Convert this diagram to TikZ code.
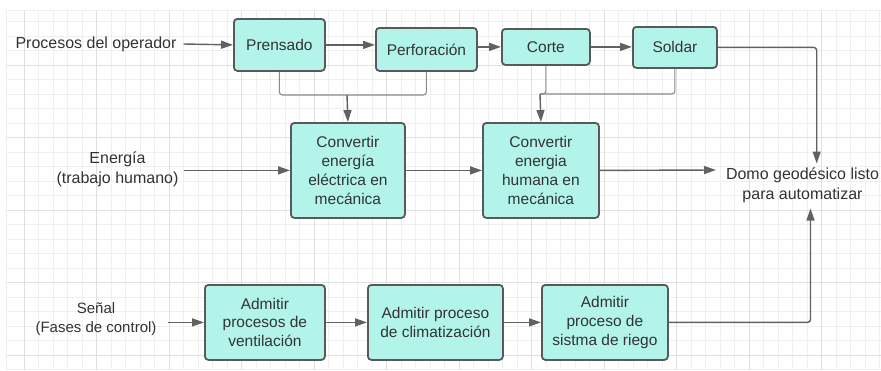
\documentclass[tikz,border=0pt]{standalone}
\usepackage{fontspec}
\setmainfont{Liberation Sans}
\usetikzlibrary{arrows.meta}
\definecolor{boxfill}{HTML}{B3F4EA}
\definecolor{boxline}{HTML}{595959}
\definecolor{arrowgray}{HTML}{616161}
\definecolor{joingray}{HTML}{8A8A8A}
\definecolor{textgray}{HTML}{333333}
\definecolor{gridminor}{HTML}{EFEFEF}
\definecolor{gridmajor}{HTML}{DFDFDF}

\begin{document}
\begin{tikzpicture}[x=1pt,y=-1pt,
  every node/.style={text=textgray,align=center,inner sep=0pt,
    font=\fontsize{15.5}{18.8}\selectfont},
  procbox/.style={draw=boxline,fill=boxfill,line width=1.8pt,
    rounded corners=3.5pt,anchor=north west},
  sidelabel/.style={font=\fontsize{16}{20}\selectfont},
  flow/.style={draw=arrowgray,line width=1.4pt,
    -{Triangle[length=12pt,width=8pt]}},
  joinline/.style={draw=joingray,line width=1.1pt,rounded corners=3pt}]
\useasboundingbox (0,0) rectangle (881,370);

% Grid background
\fill[white] (0,0) rectangle (881,370);
\foreach \gx in {24,38.5,...,881}
  \draw[gridminor,line width=0.9pt] (\gx,10) -- (\gx,370);
\foreach \gy in {21.8,36.3,...,370}
  \draw[gridminor,line width=0.9pt] (6,\gy) -- (881,\gy);
\foreach \gx in {24,96.5,...,881}
  \draw[gridmajor,line width=0.9pt] (\gx,10) -- (\gx,370);
\foreach \gy in {65.3,137.8,...,370}
  \draw[gridmajor,line width=0.9pt] (6,\gy) -- (881,\gy);
\draw[gridminor,line width=0.9pt] (6,370) -- (6,10) -- (881,10);

% Top row: operator processes
\node[procbox,minimum width=91pt,minimum height=52pt] (prensado) at (233,18) {Prensado};
\node[procbox,minimum width=101pt,minimum height=43pt] (perforacion) at (375,27) {Perforación};
\node[procbox,minimum width=88pt,minimum height=36pt] (corte) at (501,28) {Corte};
\node[procbox,minimum width=84pt,minimum height=41pt] (soldar) at (632,26) {Soldar};

% Middle row: energy conversion
\node[procbox,minimum width=114pt,minimum height=95pt] (electrica) at (290,122)
  {Convertir\\energía\\eléctrica en\\mecánica};
\node[procbox,minimum width=116pt,minimum height=95pt] (humana) at (482,122)
  {Convertir\\energia\\humana en\\mecánica};

% Bottom row: control phases
\node[procbox,minimum width=120pt,minimum height=75pt] (ventilacion) at (204,284)
  {Admitir\\procesos de\\ventilación};
\node[procbox,minimum width=135pt,minimum height=75pt] (clima) at (367,284)
  {Admitir proceso\\de climatización};
\node[procbox,minimum width=126pt,minimum height=75pt] (riego) at (541,284)
  {Admitir\\proceso de\\sistma de riego};

% Inputs and output
\node[sidelabel] (operador) at (96,44) {Procesos del operador};
\node[sidelabel] (energia) at (117.5,169) {Energía\\(trabajo humano)};
\node[font=\fontsize{15}{19.5}\selectfont] (senal) at (96,319) {Señal\\(Fases de control)};
\node[sidelabel] (domo) at (802.5,185) {Domo geodésico listo\\para automatizar};
\coordinate (domotop) at (816.7,163.5);
\coordinate (domoleft) at (716,170);
\coordinate (domobottom) at (810.5,208.5);

% Joins
\coordinate (joinA) at (347,95);
\coordinate (joinB) at (540,94);
\draw[joinline] (prensado.south) |- (joinA) -| (perforacion.south);
\draw[joinline] (corte.south) |- (joinB);
\draw[joinline] (soldar.south) |- (joinB);

% Arrows
\draw[flow] ([xshift=7pt]operador.east) -- (prensado.west);
\draw[flow] (prensado.east) -- (prensado.east -| perforacion.west);
\draw[flow] (perforacion.east |- corte.west) -- (corte.west);
\draw[flow] (corte.east) -- (corte.east -| soldar.west);
\draw[flow] (joinA) -- (electrica.north);
\draw[flow] (joinB) -- (humana.north);
\draw[flow] ([xshift=5pt]energia.east |- electrica.west) -- (electrica.west);
\draw[flow] (electrica.east) -- (humana.west);
\draw[flow] (humana.east) -- (domoleft);
\draw[flow,rounded corners=3pt] (soldar.east) -| (domotop);
\draw[flow] ([xshift=11pt]senal.east |- ventilacion.west) -- (ventilacion.west);
\draw[flow] (ventilacion.east) -- (clima.west);
\draw[flow] (clima.east) -- (riego.west);
\draw[flow,rounded corners=3pt] (riego.east) -| (domobottom);
\end{tikzpicture}
\end{document}
